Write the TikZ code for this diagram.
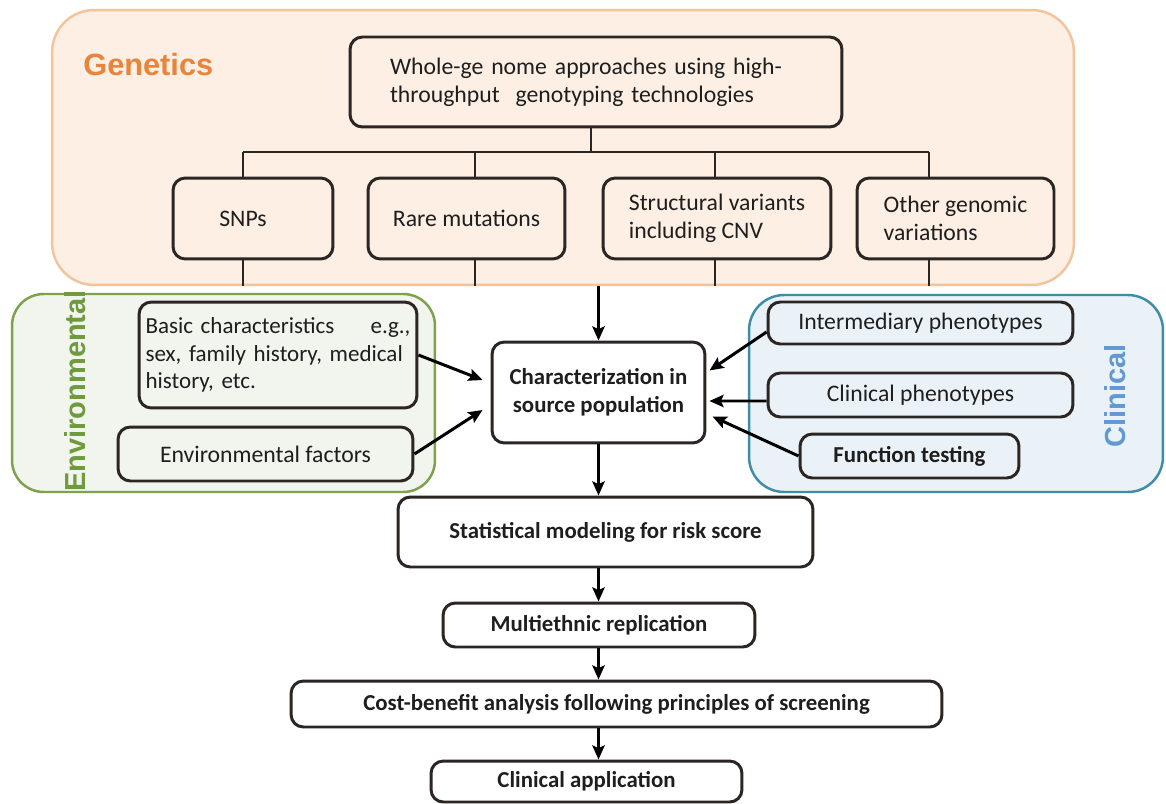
\documentclass[tikz,border=0pt]{standalone}
\usepackage{fontspec}
\setmainfont{Carlito}
\newfontfamily\headfont{Liberation Sans}
\usetikzlibrary{arrows.meta,calc}
\definecolor{genfill}{HTML}{FDEFE4}
\definecolor{genborder}{HTML}{F2C49C}
\definecolor{gentext}{HTML}{E8843C}
\definecolor{envfill}{HTML}{F2F5EE}
\definecolor{envborder}{HTML}{7DA24B}
\definecolor{envtext}{HTML}{6F9A3E}
\definecolor{clinfill}{HTML}{EBF2F7}
\definecolor{clinborder}{HTML}{3E8CA6}
\definecolor{clintext}{HTML}{6399D2}
\definecolor{boxc}{HTML}{2B2523}
\definecolor{txt}{HTML}{1E1E1E}
\newcommand\regf{\fontsize{13.5}{16}\selectfont}
\newcommand\boldf{\fontsize{13}{16}\selectfont\bfseries}
\hyphenpenalty=10000
\exhyphenpenalty=10000
\begin{document}
\begin{tikzpicture}[x=0.02cm,y=-0.02cm,
  panel/.style={line width=1.4pt, inner sep=0pt},
  box/.style={draw=boxc, line width=1.7pt, rounded corners=7pt, inner sep=0pt, text=txt, font=\regf, align=center},
  bbox/.style={box, font=\boldf},
  tree/.style={draw=boxc, line width=1.1pt},
  arr/.style={draw=black, line width=1.7pt, -{Stealth[length=8pt,width=7pt,inset=1.5pt]}},
  head/.style={font=\headfont\bfseries\fontsize{16.5}{18}\selectfont, inner sep=0pt}]
\fill[white] (0,0) rectangle (1166,804);
\useasboundingbox (0,0) rectangle (1166,804);

% panels
\node[panel, draw=genborder, fill=genfill, rounded corners=24pt, minimum width=20.44cm, minimum height=5.5cm] (gen) at (563,147.5) {};
\node[panel, draw=envborder, fill=envfill, rounded corners=18pt, minimum width=8.46cm, minimum height=3.96cm] (env) at (223.5,393) {};
\node[panel, draw=clinborder, fill=clinfill, rounded corners=20pt, minimum width=8.28cm, minimum height=3.94cm] (clin) at (956,393.5) {};

\node[head, text=gentext, anchor=west, font=\headfont\bfseries\fontsize{17.5}{20}\selectfont] (genlab) at (83,65) {Genetics};
\node[head, text=envtext, rotate=90] (envlab) at (75,391) {Environmental};
\node[head, text=clintext, rotate=90] (clinlab) at (1115,396) {Clinical};

% genetics boxes
\node[box, minimum width=9.84cm, minimum height=1.8cm, text width=8.24cm, align=left] (top) at (596,82)
  {Whole-ge nome approaches using high-\\throughput~ genotyping technologies};
\node[box, minimum width=3.2cm, minimum height=1.62cm] (snp) at (253,218.5) {SNPs\hspace*{0.4cm}};
\node[box, minimum width=3.94cm, minimum height=1.62cm] (rare) at (466.5,218.5) {Rare mutations};
\node[box, minimum width=4.56cm, minimum height=1.62cm, align=left] (struct) at (717,218.5) {Structural variants\\including CNV};
\node[box, minimum width=3.94cm, minimum height=1.62cm, align=left] (other) at (955.5,218.5) {Other genomic\\variations};

% tree
\coordinate (hub) at (591,152);
\coordinate (t1) at (243,152);
\coordinate (t2) at (475,152);
\coordinate (t3) at (715,152);
\coordinate (t4) at (929,152);
\draw[tree] (top.south -| hub) -- (hub);
\draw[tree] (t1) -- (t4);
\draw[tree] (t1) -- (t1 |- snp.north);
\draw[tree] (t2) -- (t2 |- rare.north);
\draw[tree] (t3) -- (t3 |- struct.north);
\draw[tree] (t4) -- (t4 |- other.north);
\draw[tree] (t1 |- snp.south) -- (t1 |- gen.south);
\draw[tree] (t2 |- rare.south) -- (t2 |- gen.south);
\draw[tree] (t3 |- struct.south) -- (t3 |- gen.south);
\draw[tree] (t4 |- other.south) -- (t4 |- gen.south);

% environmental boxes
\node[box, minimum width=5.56cm, minimum height=2.12cm, text width=5.3cm, align=left, font=\fontsize{13.1}{15.5}\selectfont] (basic) at (278,355)
  {Basic characteristics\hfill e.g.,\\sex, family history, medical\\history, etc.};
\node[box, minimum width=5.9cm, minimum height=1.08cm] (envf) at (265.5,454) {Environmental factors};

% central
\node[bbox, minimum width=4.26cm, minimum height=2.02cm] (char) at (598.5,392.5) {Characterization in\\source population};

% clinical boxes
\node[box, minimum width=6.1cm, minimum height=0.84cm] (interm) at (920.5,323) {Intermediary phenotypes};
\node[box, minimum width=6.1cm, minimum height=0.88cm] (clinph) at (920.5,395) {Clinical phenotypes};
\node[bbox, minimum width=4.38cm, minimum height=0.88cm] (func) at (909.5,456) {Function testing};

% lower chain
\node[bbox, minimum width=8.3cm, minimum height=1.4cm] (stat) at (605.5,532) {Statistical modeling for risk score};
\node[bbox, minimum width=6.24cm, minimum height=0.88cm] (multi) at (599,625) {Multiethnic replication};
\node[bbox, minimum width=13.02cm, minimum height=0.92cm] (cost) at (616.5,704) {Cost-benefit analysis following principles of screening};
\node[bbox, minimum width=6.22cm, minimum height=0.82cm] (app) at (586.5,781.5) {Clinical application};

% arrows
\draw[arr] (char.north |- gen.south) -- (char.north);
\draw[arr] (basic.east) -- ($(char.west)+(-8,-12.5)$);
\draw[arr] (envf.east) -- ($(char.west)+(-8,17.5)$);
\draw[arr] ($(interm.west)+(0,9)$) -- ($(char.east)+(3,-22)$);
\draw[arr] ($(clinph.west)+(0,6)$) -- ($(char.east)+(3,8.5)$);
\draw[arr] (func.west) -- ($(char.east)+(6,24)$);
\draw[arr] (char.south) -- (char.south |- stat.north);
\draw[arr] (char.south |- stat.south) -- (char.south |- multi.north);
\draw[arr] (char.south |- multi.south) -- (char.south |- cost.north);
\draw[arr] (char.south |- cost.south) -- (char.south |- app.north);
\end{tikzpicture}
\end{document}
